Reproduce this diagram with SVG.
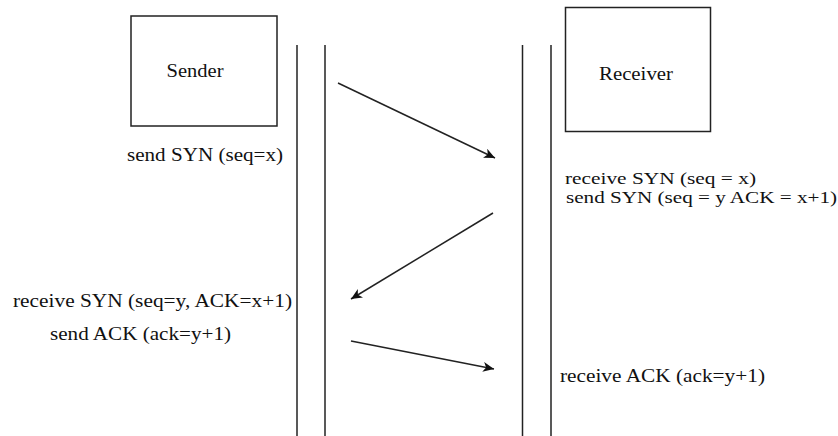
<svg xmlns="http://www.w3.org/2000/svg" width="838" height="436" viewBox="0 0 838 436">
<style>
.box{fill:#fff;stroke:#222;stroke-width:1.5}
.life{stroke:#222;stroke-width:1.5}
.arr{stroke:#222;stroke-width:1.5;fill:none;marker-end:url(#ah)}
.t{font-family:'Liberation Serif','Times New Roman',Tinos,'Noto Serif','DejaVu Serif',Times,serif;font-size:18px;fill:#111}
.s{font-size:16px}
</style>
<defs>
<marker id="ah" markerWidth="12" markerHeight="10" refX="11" refY="5" orient="auto" markerUnits="userSpaceOnUse">
<path d="M0,0 L11,5 L0,10 L3,5 z" fill="#111"/>
</marker>
</defs>
<rect width="838" height="436" fill="#fff"/>
<g id="sender">
<rect class="box" x="131" y="16" width="146" height="110"/>
<text class="t" x="166.5" y="77" textLength="57" lengthAdjust="spacingAndGlyphs">Sender</text>
</g>
<g id="receiver">
<rect class="box" x="565.5" y="7.5" width="145" height="124"/>
<text class="t" x="599" y="80" textLength="74" lengthAdjust="spacingAndGlyphs">Receiver</text>
</g>
<g id="lifelines">
<line class="life" x1="297" y1="45" x2="297" y2="436"/>
<line class="life" x1="325" y1="45" x2="325" y2="436"/>
<line class="life" x1="522.5" y1="45" x2="522.5" y2="436"/>
<line class="life" x1="551" y1="45" x2="551" y2="436"/>
</g>
<g id="connectors">
<line class="arr" x1="338" y1="83" x2="495" y2="158"/>
<line class="arr" x1="493" y1="213" x2="351" y2="299"/>
<line class="arr" x1="351" y1="341" x2="494" y2="369"/>
</g>
<g id="labels">
<text class="t" x="127" y="161" textLength="156" lengthAdjust="spacingAndGlyphs">send SYN (seq=x)</text>
<text class="t s" x="565" y="184" textLength="191" lengthAdjust="spacingAndGlyphs">receive SYN (seq = x)</text>
<text class="t s" x="566" y="203" textLength="271" lengthAdjust="spacingAndGlyphs">send SYN (seq = y ACK = x+1)</text>
<text class="t" x="13" y="307" textLength="279" lengthAdjust="spacingAndGlyphs">receive SYN (seq=y, ACK=x+1)</text>
<text class="t" x="50" y="340" textLength="181" lengthAdjust="spacingAndGlyphs">send ACK (ack=y+1)</text>
<text class="t" x="560" y="382" textLength="205" lengthAdjust="spacingAndGlyphs">receive ACK (ack=y+1)</text>
</g>
</svg>
